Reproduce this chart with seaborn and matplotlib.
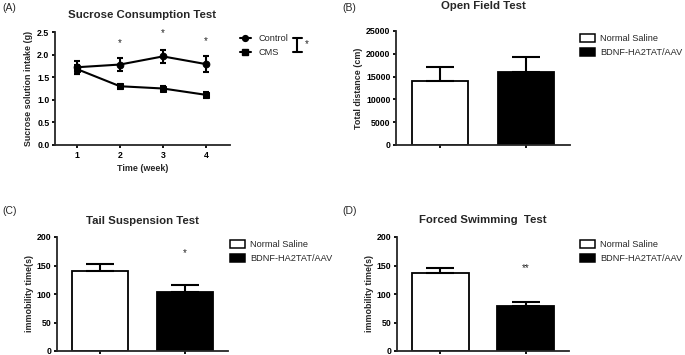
import numpy as np
import pandas as pd
import seaborn as sns
import matplotlib.pyplot as plt
from matplotlib.lines import Line2D

# ---- data ----
weeks = [1, 2, 3, 4]
control_mean = [1.72, 1.78, 1.96, 1.79]
control_sem = [0.14, 0.14, 0.15, 0.17]
cms_mean = [1.68, 1.30, 1.25, 1.11]
cms_sem = [0.10, 0.05, 0.06, 0.06]
week_star_x = [2, 3, 4]
week_star_y = [2.26, 2.48, 2.30]

groups = ["Normal Saline", "BDNF-HA2TAT/AAV"]
open_field_mean = [14000, 15900]
open_field_sem = [3200, 3500]
tail_mean = [141, 103]
tail_sem = [12, 12]
swim_mean = [137, 79]
swim_sem = [9, 7]

sns.set_style("ticks")
plt.rcParams["font.family"] = ["Liberation Sans", "DejaVu Sans"]
plt.rcParams["axes.linewidth"] = 1.3
plt.rcParams["xtick.major.width"] = 1.3
plt.rcParams["ytick.major.width"] = 1.3
plt.rcParams["xtick.major.size"] = 2.5
plt.rcParams["ytick.major.size"] = 2.5

W, H = 685, 355
fig = plt.figure(figsize=(W / 100, H / 100), dpi=100)

TICK_FS = 6.3
LABEL_FS = 6.4
TITLE_FS = 8.2
LEG_FS = 6.6


def px_axes(left, top, right, bottom):
    # figure pixel box -> add_axes rect
    return fig.add_axes([left / W, 1 - bottom / H, (right - left) / W, (bottom - top) / H])


def style_axes(ax):
    sns.despine(ax=ax)
    ax.tick_params(labelsize=TICK_FS, colors="black", pad=1.5)
    for lab in ax.get_yticklabels() + ax.get_xticklabels():
        lab.set_fontweight("bold")


# ---- (A) Sucrose consumption ----
axA = px_axes(55, 32, 230, 145)
df = pd.DataFrame({
    "week": weeks * 2,
    "intake": control_mean + cms_mean,
    "group": ["Control"] * 4 + ["CMS"] * 4,
})
sns.lineplot(data=df, x="week", y="intake", hue="group", style="group",
             markers={"Control": "o", "CMS": "s"}, dashes=False,
             palette=["black", "black"], markersize=4.8, linewidth=1.5,
             markeredgecolor="black", ax=axA, legend=False)
axA.errorbar(weeks, control_mean, yerr=control_sem, fmt="none", ecolor="black",
             elinewidth=1.5, capsize=2.3, capthick=1.5)
axA.errorbar(weeks, cms_mean, yerr=cms_sem, fmt="none", ecolor="black",
             elinewidth=1.5, capsize=2.3, capthick=1.5)
for x, y in zip(week_star_x, week_star_y):
    axA.text(x, y, "*", ha="center", va="center", fontsize=7)
axA.set_xlim(0.49, 4.56)
axA.set_ylim(0, 2.5)
axA.set_xticks(weeks)
axA.set_yticks([0.0, 0.5, 1.0, 1.5, 2.0, 2.5])
axA.set_yticklabels(["0.0", "0.5", "1.0", "1.5", "2.0", "2.5"])
axA.set_xlabel("Time (week)", fontsize=LABEL_FS, fontweight="bold", labelpad=3)
axA.set_ylabel("Sucrose solution intake (g)", fontsize=LABEL_FS, fontweight="bold", labelpad=3)
axA.set_title("Sucrose Consumption Test", fontsize=TITLE_FS, fontweight="bold", pad=10)
style_axes(axA)
handles = [Line2D([], [], color="black", marker="o", markersize=4.2, lw=1.5),
           Line2D([], [], color="black", marker="s", markersize=4.2, lw=1.5)]
axA.legend(handles, ["Control", "CMS"], loc="upper left", bbox_to_anchor=(1.057, 0.98),
           frameon=False, fontsize=LEG_FS, handlelength=1.2, handletextpad=0.8,
           labelspacing=0.55, borderaxespad=0, borderpad=0)
# significance bracket beside the legend
bx, by0, by1 = 297, 38, 52
fig.add_artist(Line2D([bx / W, bx / W], [1 - by0 / H, 1 - by1 / H], color="black", lw=1.5))
for yy in (by0, by1):
    fig.add_artist(Line2D([(bx - 4.5) / W, (bx + 4.5) / W], [1 - yy / H, 1 - yy / H], color="black", lw=1.5))
fig.text(307 / W, 1 - 44 / H, "*", fontsize=7, ha="center", va="center")


def bar_panel(ax, means, sems, ylim, yticks, ylabel, title, title_pad, leg_x, star=None):
    sns.barplot(x=groups, y=means, hue=groups, palette=["white", "black"],
                edgecolor="black", linewidth=1.3, width=0.66, errorbar=None,
                legend=False, ax=ax)
    ax.errorbar([0, 1], means, yerr=[[0, 0], sems], fmt="none", ecolor="black",
                elinewidth=1.5, capsize=10, capthick=1.5, zorder=3)
    if star is not None:
        ax.text(1, star[0], star[1], ha="center", va="center", fontsize=7)
    ax.set_xlim(-0.51, 1.51)
    ax.set_ylim(*ylim)
    ax.set_yticks(yticks)
    ax.set_xticks([0, 1])
    ax.set_xticklabels(["", ""])
    ax.set_xlabel("")
    ax.set_ylabel(ylabel, fontsize=LABEL_FS, fontweight="bold", labelpad=2)
    ax.set_title(title, fontsize=TITLE_FS, fontweight="bold", pad=title_pad)
    style_axes(ax)
    patches = [plt.Rectangle((0, 0), 1, 1, facecolor=c, edgecolor="black", lw=1.1)
               for c in ["white", "black"]]
    ax.legend(patches, groups, loc="upper left", bbox_to_anchor=(leg_x, 0.97),
              frameon=False, fontsize=LEG_FS, handlelength=1.65, handleheight=0.9,
              handletextpad=0.55, labelspacing=0.5, borderaxespad=0, borderpad=0)


# ---- (B) Open field ----
axB = px_axes(396, 31, 570, 145)
bar_panel(axB, open_field_mean, open_field_sem, (0, 25000),
          [0, 5000, 10000, 15000, 20000, 25000], "Total distance (cm)",
          "Open Field Test", 16, 1.057)

# ---- (C) Tail suspension ----
axC = px_axes(57, 237, 228, 351)
bar_panel(axC, tail_mean, tail_sem, (0, 200), [0, 50, 100, 150, 200],
          "immobility time(s)", "Tail Suspension Test", 9.5, 1.012, star=(172, "*"))

# ---- (D) Forced swimming ----
axD = px_axes(397, 237, 569, 351)
bar_panel(axD, swim_mean, swim_sem, (0, 200), [0, 50, 100, 150, 200],
          "immobility time(s)", "Forced Swimming  Test", 10, 1.064, star=(146, "**"))

# panel letters
for x, y, s in [(2, 8, "(A)"), (342, 8, "(B)"), (2, 211, "(C)"), (342, 211, "(D)")]:
    fig.text(x / W, 1 - y / H, s, fontsize=7.5, va="center", ha="left")

fig.savefig("out.png", dpi=100, facecolor="white")
